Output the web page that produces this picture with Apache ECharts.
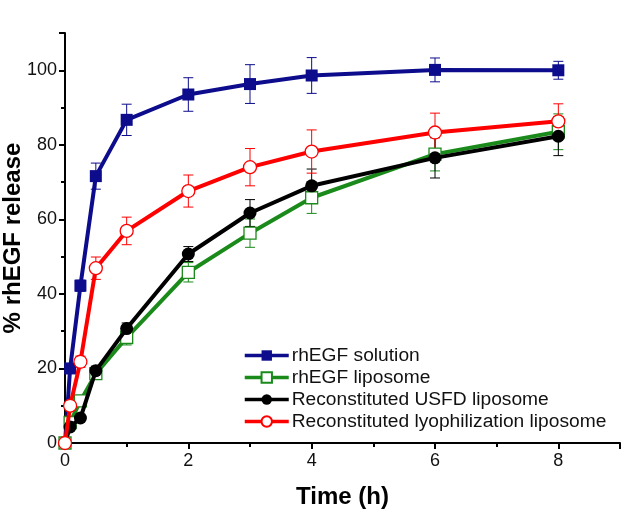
<!DOCTYPE html>
<html><head><meta charset="utf-8">
<script src="https://cdn.jsdelivr.net/npm/echarts@6/dist/echarts.min.js"></script>
<style>html,body{margin:0;padding:0;background:#fff}#c{width:622px;height:512px}</style>
</head><body><div id="c"></div>
<script>
const times = [0, 0.083, 0.25, 0.5, 1, 2, 3, 4, 6, 8];
const seriesNames = ['rhEGF solution', 'rhEGF liposome', 'Reconstituted USFD liposome', 'Reconstituted lyophilization liposome'];
const solution = [0, 20, 42.2, 71.6, 86.7, 93.5, 96.3, 98.6, 100.1, 100];
const solutionErr = [0, 0, 1.5, 3.5, 4.2, 4.5, 5.2, 4.8, 3.2, 2.4];
const liposome = [0, 5.5, 11.3, 18.6, 28.3, 45.8, 56.3, 65.8, 77.5, 83.5];
const liposomeErr = [0, 1, 1, 1.5, 2, 2.6, 3.8, 4.2, 4.5, 4.8];
const usfd = [0, 4.3, 6.7, 19.4, 30.7, 50.7, 61.7, 69, 76.5, 82.3];
const usfdErr = [0, 0.8, 0.8, 1.2, 1.5, 2, 3.6, 4.5, 5.4, 5.2];
const lyo = [0, 10, 21.8, 46.9, 56.9, 67.6, 74, 78.2, 83.3, 86.3];
const lyoErr = [0, 1, 1.5, 3, 3.7, 4.3, 5, 5.8, 5.2, 4.7];
const colors = ['#0c0c8c', '#1a8a1a', '#000000', '#ff0000'];
const symbols = ['rect', 'rect', 'circle', 'circle'];
const filled = [true, false, true, false];
const values = [solution, liposome, usfd, lyo];
const errs = [solutionErr, liposomeErr, usfdErr, lyoErr];

const chart = echarts.init(document.getElementById('c'), null, {renderer: 'canvas'});
const series = [];
values.forEach((vals, i) => {
  series.push({
    type: 'custom', name: seriesNames[i] + ' err', silent: true, z: 1,
    data: times.map((t, k) => [t, vals[k], errs[i][k]]),
    renderItem: function (params, api) {
      const x = api.value(0), y = api.value(1), e = api.value(2);
      if (!e) return null;
      const top = api.coord([x, y + e]);
      const bot = api.coord([x, y - e]);
      const hw = 5;
      const st = {stroke: colors[i], lineWidth: 1};
      return {type: 'group', children: [
        {type: 'line', shape: {x1: top[0], y1: top[1], x2: bot[0], y2: bot[1]}, style: st},
        {type: 'line', shape: {x1: top[0] - hw, y1: top[1], x2: top[0] + hw, y2: top[1]}, style: st},
        {type: 'line', shape: {x1: bot[0] - hw, y1: bot[1], x2: bot[0] + hw, y2: bot[1]}, style: st}
      ]};
    }
  });
});
values.forEach((vals, i) => {
  series.push({
    type: 'line', name: seriesNames[i], z: 2 + i,
    data: times.map((t, k) => [t, vals[k]]),
    symbol: symbols[i], symbolSize: i < 2 ? 12 : 13, showAllSymbol: true,
    lineStyle: {color: colors[i], width: 4},
    itemStyle: {color: filled[i] ? colors[i] : '#ffffff', borderColor: colors[i], borderWidth: filled[i] ? 0 : 1.3},
    emphasis: {disabled: true}
  });
});

chart.setOption({
  animation: false,
  backgroundColor: '#fff',
  grid: {left: 65, right: 2, top: 33, bottom: 69, containLabel: false, outerBoundsMode: 'none'},
  legend: {
    data: seriesNames, orient: 'vertical', left: 243, top: 346, padding: 0,
    itemWidth: 44, itemHeight: 13, itemGap: 3,
    lineStyle: {width: 3.5},
    textStyle: {fontFamily: 'Liberation Sans, Arial', fontSize: 19.2, color: '#111', padding: [0, 0, 0, -2]}
  },
  xAxis: {
    type: 'value', min: 0, max: 9, interval: 2,
    name: 'Time (h)', nameLocation: 'middle', nameGap: 42, nameMoveOverlap: false,
    nameTextStyle: {fontFamily: 'Liberation Sans, Arial', fontWeight: 'bold', fontSize: 24, color: '#000'},
    axisLine: {show: true, lineStyle: {color: '#000', width: 2}},
    axisTick: {show: true, length: 6, lineStyle: {color: '#000', width: 2}},
    minorTick: {show: true, splitNumber: 2, length: 4, lineStyle: {color: '#000', width: 2}},
    axisLabel: {fontFamily: 'Liberation Sans, Arial', fontSize: 18, color: '#111', margin: 9, showMaxLabel: false},
    splitLine: {show: false}
  },
  yAxis: {
    type: 'value', min: 0, max: 110, interval: 20,
    name: '% rhEGF release', nameLocation: 'middle', nameGap: 40, nameMoveOverlap: false,
    nameTextStyle: {fontFamily: 'Liberation Sans, Arial', fontWeight: 'bold', fontSize: 24, color: '#000'},
    axisLine: {show: true, lineStyle: {color: '#000', width: 2}},
    axisTick: {show: true, length: 6, lineStyle: {color: '#000', width: 2}},
    minorTick: {show: true, splitNumber: 2, length: 4, lineStyle: {color: '#000', width: 2}},
    axisLabel: {fontFamily: 'Liberation Sans, Arial', fontSize: 18, color: '#111', margin: 8, showMaxLabel: false},
    splitLine: {show: false}
  },
  series: series
});
</script></body></html>
